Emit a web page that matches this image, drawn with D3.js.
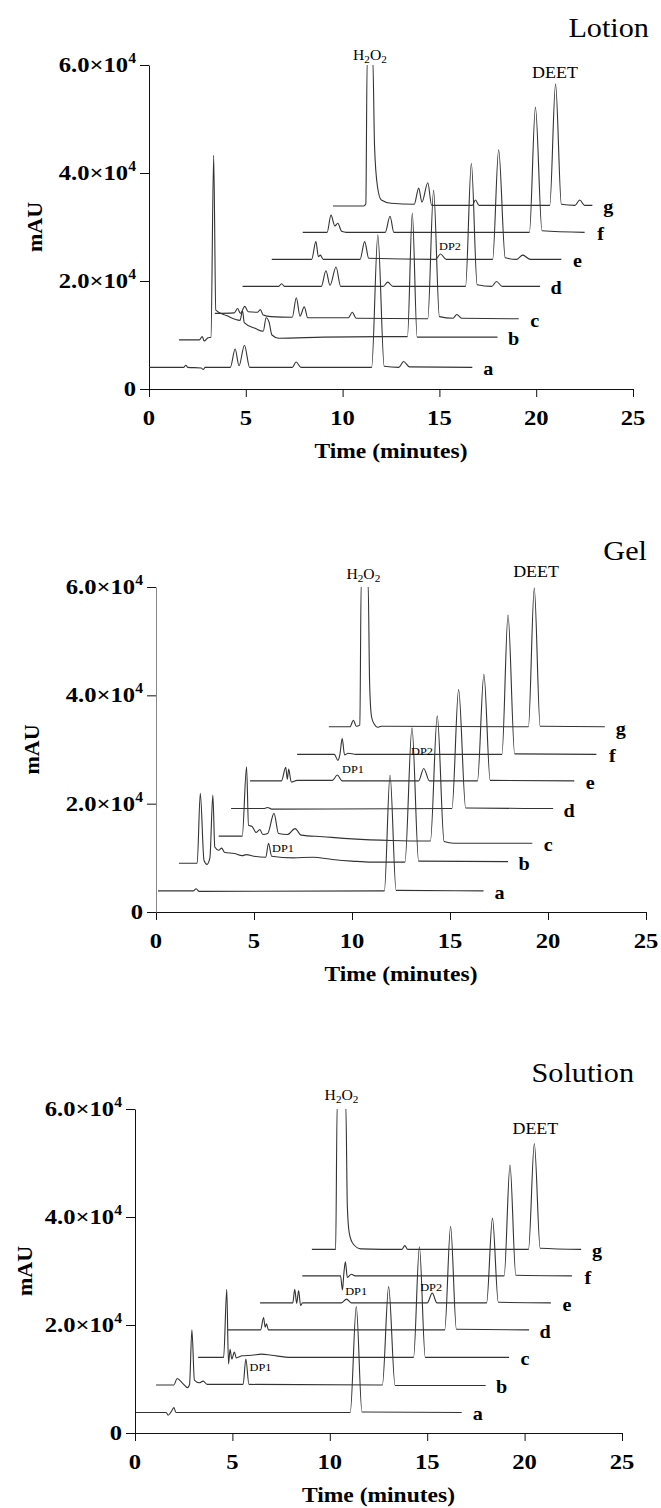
<!DOCTYPE html>
<html><head><meta charset="utf-8">
<script src="https://cdn.jsdelivr.net/npm/d3@7"></script>
<style>body{margin:0;background:#fff}svg{display:block}</style>
</head><body>
<script>
// ---------- data ----------
const timeTicks = [0, 5, 10, 15, 20, 25];
const mauTicks = [0, 20000, 40000, 60000];
const mauTickLabels = ["0", "2.0×10", "4.0×10", "6.0×10"];
const mauExponent = "4";
const seriesNames = ["a", "b", "c", "d", "e", "f", "g"];
const panelTitles = ["Lotion", "Gel", "Solution"];
const xTitle = "Time (minutes)";
const yTitle = "mAU";

// Lotion traces [time (min), mAU]
const lotionA = [[0,4000],[1.8,4000],[1.9,4400],[2.0,4000],[2.7,3900],[2.8,3600],[2.9,4000],[4.2,4000],[4.45,7400],[4.65,4300],[4.93,8100],[5.2,4000],[7.4,4000],[7.6,5000],[7.85,4000],[11.5,4000],[11.82,28500],[12.15,4200],[12.9,4000],[13.15,5100],[13.45,4100],[16.7,4000]];
const lotionB = [[1.55,9100],[2.6,9100],[2.75,9700],[2.85,8900],[3.05,9500],[3.2,9600],[3.34,43300],[3.45,14600],[4.0,13600],[4.7,12700],[4.83,14500],[4.92,12300],[5.5,11200],[5.9,10700],[6.05,13200],[6.2,12400],[6.35,10000],[6.7,9400],[9.0,9600],[12.0,9700],[13.35,9700],[13.6,32600],[13.85,9600],[18.0,9600]];
const lotionC = [[3.4,14000],[4.4,14100],[4.58,14900],[4.72,14000],[4.95,15300],[5.12,14300],[5.6,14200],[5.75,14700],[5.9,13700],[6.3,13400],[7.4,13300],[7.61,16900],[7.8,13500],[8.02,15200],[8.2,13200],[10.3,13200],[10.5,14200],[10.7,13100],[14.4,13000],[14.7,36800],[15.0,13400],[15.7,13100],[15.9,13800],[16.15,13100],[19.1,13000]];
const lotionD = [[4.83,19000],[6.7,19000],[6.85,19500],[7.0,19000],[8.9,19000],[9.14,21900],[9.35,19200],[9.66,22600],[9.9,19000],[12.1,19000],[12.33,19800],[12.6,19000],[16.35,19000],[16.65,41800],[16.95,19300],[17.7,19000],[17.95,19900],[18.25,19000],[20.2,19000]];
const lotionE = [[6.34,24000],[8.4,24000],[8.62,27300],[8.75,24500],[8.85,24800],[9.0,24000],[10.9,24000],[11.14,27300],[11.35,24200],[14.8,24000],[15.06,25000],[15.35,24000],[17.75,24000],[18.06,44300],[18.4,24300],[19.0,24000],[19.3,24800],[19.7,24000],[21.3,24000]];
const lotionF = [[7.94,29000],[9.2,29000],[9.4,32200],[9.6,30200],[9.75,30700],[9.95,29200],[10.2,29000],[12.2,29000],[12.45,32000],[12.65,29000],[19.65,29000],[19.96,52200],[20.3,29300],[22.5,29000]];
const lotionG = [[9.5,33900],[11.1,33900],[11.2,34300],[11.27,61000],[11.56,61000],[11.65,45000],[11.8,37500],[12.0,35000],[12.5,34400],[13.7,34200],[13.93,37200],[14.1,34600],[14.4,38200],[14.6,34000],[16.7,34000],[16.86,35000],[17.05,34000],[20.7,34000],[21.0,56500],[21.3,34200],[22.0,34000],[22.25,35000],[22.5,34000],[22.9,34000]];

// Gel traces
const gelA = [[0.1,3900],[1.9,3900],[2.05,4300],[2.2,3800],[11.65,3900],[11.94,25300],[12.25,4000],[16.71,3900]];
const gelB = [[1.17,9000],[2.1,9000],[2.26,21900],[2.45,9500],[2.6,8800],[2.75,10000],[2.9,21600],[3.0,12000],[3.2,11400],[3.35,11800],[3.5,11000],[4.0,10800],[4.4,10400],[4.6,10600],[5.0,10300],[5.6,10100],[5.74,12700],[5.9,10300],[7.0,10000],[8.0,10100],[9.0,9700],[10.0,9400],[11.0,9200],[12.7,9200],[13.06,34000],[13.4,9400],[17.96,9300]];
const gelC = [[3.2,14000],[4.4,14000],[4.62,26800],[4.72,16000],[4.9,15800],[5.1,14700],[5.3,15200],[5.45,14300],[5.7,14500],[6.02,18200],[6.25,14500],[6.7,14300],[7.1,15400],[7.4,14200],[8.5,13900],[10.0,13500],[12.0,13200],[14.0,13100],[14.35,36200],[14.7,13000],[15.2,12700],[19.2,12700]];
const gelD = [[3.83,19100],[5.5,19100],[5.7,19300],[5.9,19000],[15.1,19100],[15.44,41100],[15.8,19200],[20.26,19100]];
const gelE = [[4.8,24200],[6.4,24200],[6.62,26700],[6.7,24500],[6.77,26400],[6.9,24000],[7.2,24300],[9.0,24300],[9.25,25300],[9.5,24200],[13.4,24200],[13.66,26500],[13.95,24200],[16.4,24200],[16.73,43900],[17.05,24300],[21.34,24200]];
const gelF = [[7.2,29100],[9.1,29100],[9.28,28000],[9.38,29000],[9.5,32000],[9.62,29000],[9.8,29300],[10.2,29100],[17.65,29100],[17.96,54800],[18.3,29200],[22.47,29100]];
const gelG = [[8.82,34200],[9.9,34200],[10.07,35400],[10.22,34300],[10.4,34500],[10.47,61000],[10.82,61000],[10.9,42000],[11.0,36000],[11.15,34600],[11.3,34100],[11.5,34300],[19.0,34200],[19.3,59800],[19.6,34300],[22.9,34200]];

// Solution traces
const solA = [[0.04,3800],[1.6,3800],[1.7,3300],[1.85,3900],[2.0,4700],[2.1,3800],[11.05,3800],[11.36,23400],[11.65,3900],[16.77,3800]];
const solB = [[1.08,8900],[2.0,8900],[2.16,10100],[2.45,9200],[2.7,8400],[2.8,9000],[2.92,19100],[3.05,9800],[3.3,9300],[3.5,9600],[3.7,9000],[5.55,9000],[5.69,13700],[5.85,9000],[12.7,8900],[13.02,27100],[13.35,8800],[18.0,8800]];
const solC = [[3.24,14000],[4.55,14000],[4.71,26600],[4.8,12800],[4.88,15500],[4.97,13700],[5.1,15000],[5.2,13900],[5.5,14300],[6.0,14400],[6.5,14600],[7.0,14400],[8.0,14000],[14.3,14000],[14.6,34500],[14.9,14000],[19.2,14000]];
const solD = [[4.76,19100],[6.45,19100],[6.6,21400],[6.68,19600],[6.75,20200],[6.85,19100],[15.9,19100],[16.2,38300],[16.5,19200],[20.23,19100]];
const solE = [[6.42,24100],[8.1,24100],[8.2,26600],[8.3,24000],[8.4,26400],[8.5,23600],[8.6,24100],[10.6,24100],[10.86,24800],[11.1,24100],[15.0,24100],[15.26,25900],[15.5,24100],[18.05,24100],[18.35,39800],[18.65,24200],[21.35,24100]];
const solF = [[8.59,29100],[10.55,29100],[10.65,26500],[10.72,29500],[10.8,31700],[10.9,28800],[11.1,29400],[11.3,29100],[18.95,29100],[19.25,49600],[19.55,29200],[22.43,29100]];
const solG = [[9.08,34000],[10.3,34000],[10.38,61000],[10.82,61000],[10.9,42000],[11.0,37000],[11.2,35000],[11.6,34100],[13.7,34000],[13.85,34700],[14.0,34000],[20.2,34000],[20.5,53600],[20.8,34200],[22.9,34000]];

// peak annotations: [text, time, mAU]
const lotionNotes = [["H2O2", 11.41, 60900], ["DEET", 20.97, 57600], ["DP2", 15.55, 25700]];
const gelNotes = [["H2O2", 10.58, 61500], ["DEET", 19.39, 61800], ["DP1", 10.05, 25700], ["DP2", 13.57, 29000], ["DP1", 6.48, 11100]];
const solNotes = [["H2O2", 10.6, 61700], ["DEET", 20.55, 55400], ["DP1", 11.35, 25600], ["DP2", 15.2, 26300], ["DP1", 6.44, 11500]];

// ---------- layout ----------
const W = 661, H = 1508, SX = 1.12;
const FONT = "'Liberation Serif','Times New Roman',serif";
const panels = [
  {title: panelTitles[0], traces: [lotionA,lotionB,lotionC,lotionD,lotionE,lotionF,lotionG], notes: lotionNotes,
   xl: 149, xr: 633, y0: 389, y6: 65, titleX: 649, titleY: 37, mauX: 35, yAxisColor: "#111"},
  {title: panelTitles[1], traces: [gelA,gelB,gelC,gelD,gelE,gelF,gelG], notes: gelNotes,
   xl: 156, xr: 646, y0: 912, y6: 587, titleX: 647, titleY: 560, mauX: 32, yAxisColor: "#888"},
  {title: panelTitles[2], traces: [solA,solB,solC,solD,solE,solF,solG], notes: solNotes,
   xl: 135, xr: 622, y0: 1433, y6: 1109, titleX: 634, titleY: 1082, mauX: 25, yAxisColor: "#111"}
];

const svg = d3.select("body").append("svg").attr("width", W).attr("height", H)
  .style("font-family", FONT);

function stretchedText(g, x, y, anchor) {
  return g.append("text")
    .attr("transform", `translate(${x},${y}) scale(${SX},1)`)
    .attr("text-anchor", anchor);
}

panels.forEach((p, pi) => {
  const x = d3.scaleLinear().domain([0, 25]).range([p.xl, p.xr]);
  const y = d3.scaleLinear().domain([0, 60000]).range([p.y0, p.y6]);
  const g = svg.append("g");

  // clip above 6e4
  const cid = "clip" + pi;
  svg.append("clipPath").attr("id", cid).append("rect")
    .attr("x", 0).attr("y", y(60000)).attr("width", W).attr("height", p.y0 - y(60000) + 5);

  // axes
  const xAxis = d3.axisBottom(x).tickValues(timeTicks).tickSize(8).tickSizeOuter(0).tickFormat("");
  g.append("g").attr("transform", `translate(0,${p.y0})`).call(xAxis)
    .call(a => a.selectAll("line,path").attr("stroke", "#111"));
  const yAxis = d3.axisLeft(y).tickValues(mauTicks).tickSize(9).tickSizeOuter(0).tickFormat("");
  g.append("g").attr("transform", `translate(${p.xl},0)`).call(yAxis)
    .call(a => a.select("path").attr("stroke", p.yAxisColor))
    .call(a => a.selectAll("line").attr("stroke", "#111"));

  // x tick labels
  timeTicks.forEach(t => {
    stretchedText(g, x(t), p.y0 + 36, "middle")
      .attr("font-size", 22).attr("font-weight", "bold").text(t);
  });
  // y tick labels
  mauTicks.forEach((v, i) => {
    const tx = stretchedText(g, p.xl - 13, y(v) + 7, "end")
      .attr("font-size", 22).attr("font-weight", "bold");
    tx.append("tspan").text(mauTickLabels[i]);
    if (v !== 0) tx.append("tspan").attr("dy", -9).attr("font-size", 14).text(mauExponent);
  });
  // axis titles
  stretchedText(g, (p.xl + p.xr) / 2, p.y0 + 69, "middle")
    .attr("font-size", 21).attr("font-weight", "bold").text(xTitle);
  g.append("text").attr("transform", `translate(${p.mauX + 7},${(p.y0 + p.y6) / 2}) rotate(-90)`)
    .attr("text-anchor", "middle").attr("font-size", 22).attr("font-weight", "bold").text(yTitle);
  // panel title
  stretchedText(g, p.titleX, p.titleY, "end").attr("font-size", 27).text(p.title);

  // traces
  const line = d3.line().x(d => x(d[0])).y(d => y(d[1])).curve(d3.curveMonotoneX);
  const tg = g.append("g").attr("clip-path", `url(#${cid})`);
  p.traces.forEach((tr, i) => {
    tg.append("path").attr("d", line(tr)).attr("fill", "none")
      .attr("stroke", "#333").attr("stroke-width", 1.1);
    const last = tr[tr.length - 1];
    stretchedText(g, x(last[0]) + 16, y(last[1]) + 8, "middle")
      .attr("font-size", 18).attr("font-weight", "bold").text(seriesNames[i]);
  });

  // peak annotations
  p.notes.forEach(n => {
    const [txt, t, v] = n;
    if (txt === "H2O2") {
      const tx = stretchedText(g, x(t), y(v), "middle").attr("font-size", 14);
      tx.append("tspan").text("H");
      tx.append("tspan").attr("dy", 3).attr("font-size", 10).text("2");
      tx.append("tspan").attr("dy", -3).text("O");
      tx.append("tspan").attr("dy", 3).attr("font-size", 10).text("2");
    } else if (txt === "DEET") {
      stretchedText(g, x(t), y(v), "middle").attr("font-size", 16).text(txt);
    } else {
      stretchedText(g, x(t), y(v), "middle").attr("font-size", 11).text(txt);
    }
  });
});
</script>
</body></html>
